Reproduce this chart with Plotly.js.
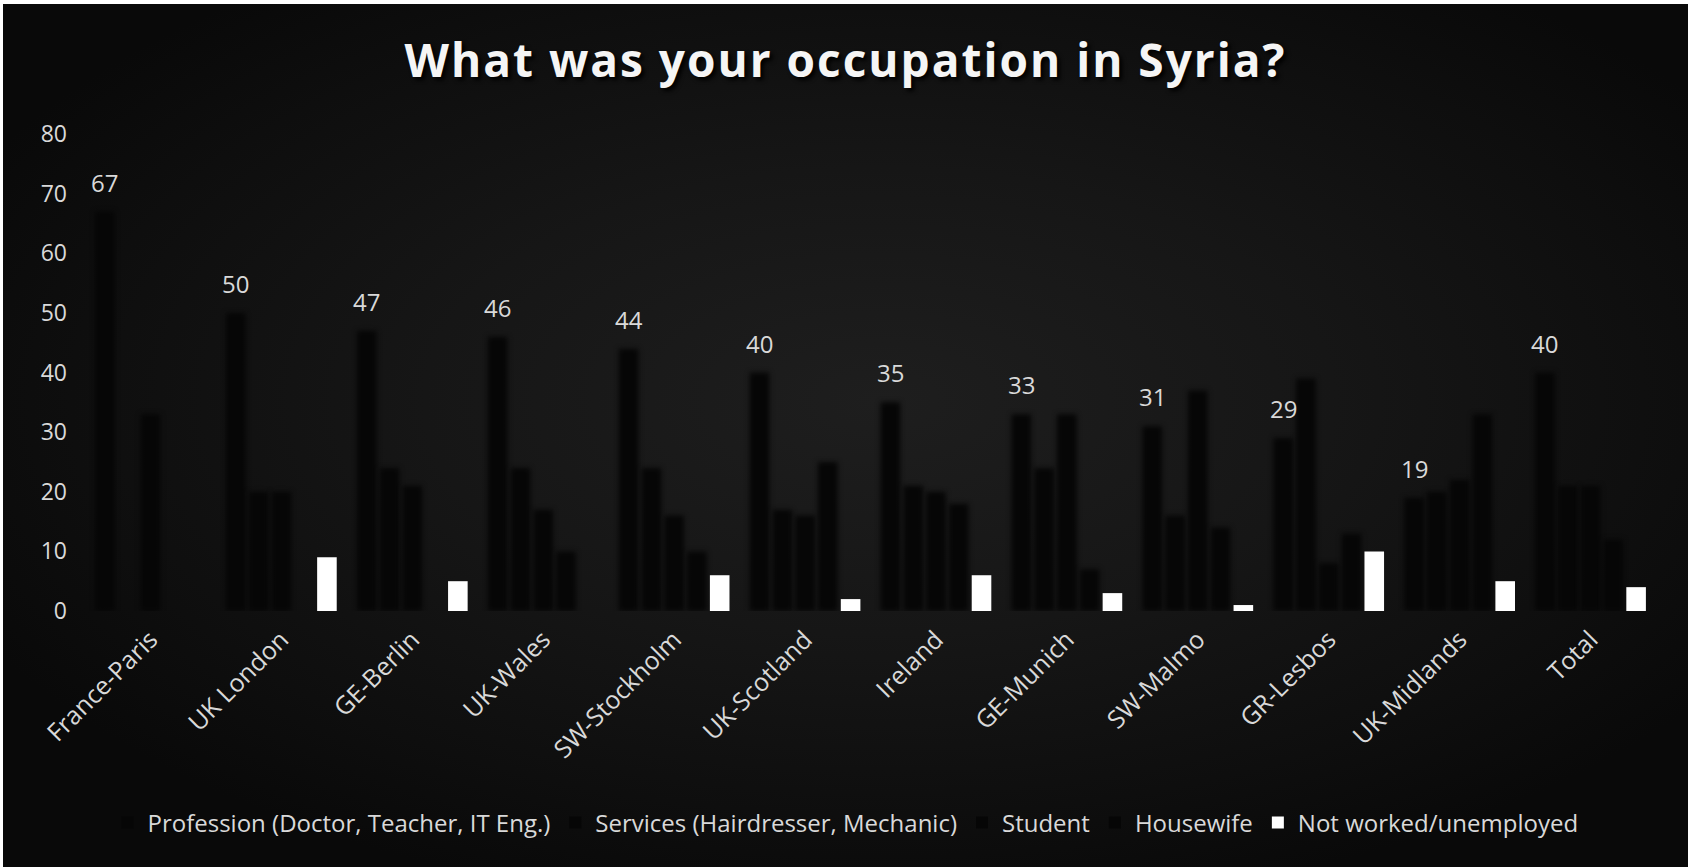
<!DOCTYPE html>
<html>
<head>
<meta charset="utf-8">
<script src="https://cdn.plot.ly/plotly-3.0.1.min.js"></script>
<style>
  html, body { margin: 0; padding: 0; background: #ffffff; width: 1688px; height: 867px; overflow: hidden; }
  #chart {
    position: absolute; left: 3px; top: 4px; width: 1685px; height: 863px;
    background: radial-gradient(ellipse 60% 60% at 52% 46%, #1e1e1e 0%, #161616 45%, #0e0e0e 80%, #090909 100%);
  }
  #chart .barlayer .trace:nth-child(-n+4) path { filter: blur(2.5px); }
  #chart .gtitle { letter-spacing: 2px; }
</style>
</head>
<body>
<div id="chart"></div>
<script>
const categories = ["France-Paris", "UK London", "GE-Berlin", "UK-Wales", "SW-Stockholm", "UK-Scotland",
                    "Ireland", "GE-Munich", "SW-Malmo", "GR-Lesbos", "UK-Midlands", "Total"];
const seriesNames = ["Profession (Doctor, Teacher, IT Eng.)", "Services (Hairdresser, Mechanic)",
                     "Student", "Housewife", "Not worked/unemployed"];
const profession = [67, 50, 47, 46, 44, 40, 35, 33, 31, 29, 19, 40];
const services   = [0, 20, 24, 24, 24, 17, 21, 24, 16, 39, 20, 21];
const student    = [33, 20, 21, 17, 16, 16, 20, 33, 37, 8, 22, 21];
const housewife  = [0, 0, 0, 10, 10, 25, 18, 7, 14, 13, 33, 12];
const notWorked  = [0, 9, 5, 0, 6, 2, 6, 3, 1, 10, 5, 4];
const yTicks = [0, 10, 20, 30, 40, 50, 60, 70, 80];

const allSeries = [profession, services, student, housewife, notWorked];
const colors = ["#060606", "#060606", "#060606", "#060606", "#ffffff"];
const BARGAP = 0.13;
const nSeries = allSeries.length;
const slot = (1 - BARGAP) / nSeries;

const traces = allSeries.map((vals, k) => ({
  type: "bar",
  name: seriesNames[k],
  x: categories,
  y: vals,
  marker: { color: colors[k], line: { width: 0 } },
  hoverinfo: "x+y+name"
}));

const labelFont = { family: "Open Sans, Noto Sans, sans-serif", size: 24, color: "#d9d9d9" };
const annotations = profession.map((v, i) => ({
  x: i - 2 * slot, y: v, xref: "x", yref: "y",
  text: String(v), showarrow: false, yanchor: "bottom", yshift: 11,
  font: labelFont
}));

const layout = {
  width: 1685, height: 863,
  paper_bgcolor: "rgba(0,0,0,0)",
  plot_bgcolor: "rgba(0,0,0,0)",
  margin: { l: 82, r: 32, t: 130, b: 256 },
  title: {
    text: "What was your occupation in Syria?",
    x: 0.5, xanchor: "center", xref: "container",
    y: 1 - 57 / 863, yanchor: "middle", yref: "container",
    font: { family: "Open Sans, sans-serif", size: 46, weight: 700, color: "#f5f5f5", shadow: "3px 3px 4px #000" }
  },
  barmode: "group",
  bargap: BARGAP,
  bargroupgap: 0.14,
  xaxis: {
    type: "category",
    range: [-0.5, categories.length - 0.5],
    tickangle: -45,
    tickfont: { family: "Open Sans, Noto Sans, sans-serif", size: 25, color: "#d9d9d9" },
    showgrid: false, zeroline: false, showline: false, ticks: "",
    ticklabelstandoff: 8,
    fixedrange: true
  },
  yaxis: {
    range: [0, 80],
    tickvals: yTicks,
    ticktext: yTicks.map(String),
    tickfont: { family: "Open Sans, Noto Sans, sans-serif", size: 23, color: "#d9d9d9" },
    showgrid: false, zeroline: false, showline: false, ticks: "",
    ticklabelstandoff: 17,
    fixedrange: true
  },
  showlegend: true,
  legend: {
    orientation: "h",
    xref: "container", yref: "container",
    x: 0.5, xanchor: "center",
    y: 1 - 819 / 863, yanchor: "middle",
    font: { family: "Open Sans, Noto Sans, sans-serif", size: 24, color: "#d9d9d9" },
    bgcolor: "rgba(0,0,0,0)",
    itemwidth: 30,
    traceorder: "normal"
  },
  annotations: annotations
};

Plotly.newPlot("chart", traces, layout, { displayModeBar: false, staticPlot: true });
</script>
</body>
</html>
